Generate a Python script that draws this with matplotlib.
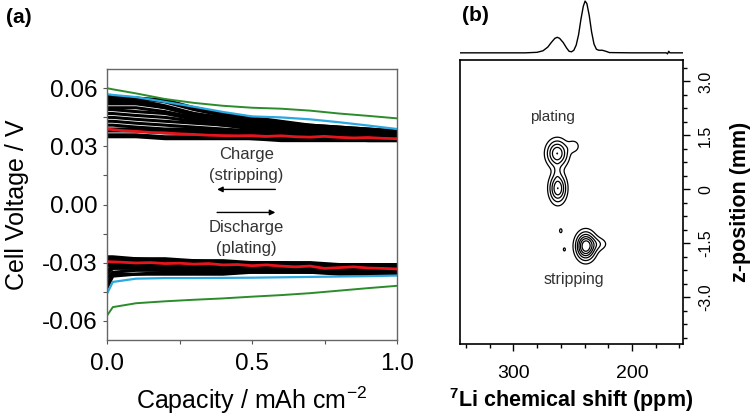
import numpy as np
import matplotlib
matplotlib.use("Agg")
import matplotlib.pyplot as plt
from matplotlib.ticker import MultipleLocator, FixedLocator, FixedFormatter

plt.rcParams['font.family'] = ['Liberation Sans', 'DejaVu Sans']
plt.rcParams['mathtext.default'] = 'regular'

# ---------------- panel (a): voltage profiles ----------------
cap = [0.0, 0.02, 0.1, 0.2, 0.3, 0.4, 0.5, 0.6, 0.7, 0.8, 0.9, 1.0]

charge_black = [
    [0.056, 0.056, 0.055, 0.054, 0.050, 0.047, 0.045, 0.043, 0.041, 0.040, 0.039, 0.038],
    [0.055, 0.055, 0.055, 0.053, 0.049, 0.046, 0.044, 0.042, 0.041, 0.040, 0.039, 0.038],
    [0.054, 0.054, 0.054, 0.051, 0.047, 0.045, 0.043, 0.041, 0.040, 0.039, 0.038, 0.037],
    [0.053, 0.053, 0.053, 0.050, 0.047, 0.044, 0.042, 0.041, 0.040, 0.039, 0.038, 0.037],
    [0.052, 0.052, 0.052, 0.050, 0.046, 0.043, 0.041, 0.040, 0.039, 0.038, 0.037, 0.037],
    [0.050, 0.050, 0.050, 0.048, 0.045, 0.042, 0.040, 0.039, 0.038, 0.037, 0.037, 0.036],
    [0.049, 0.049, 0.048, 0.047, 0.044, 0.042, 0.040, 0.039, 0.038, 0.037, 0.036, 0.036],
    [0.047, 0.047, 0.046, 0.045, 0.043, 0.041, 0.040, 0.039, 0.038, 0.037, 0.036, 0.036],
    [0.045, 0.045, 0.044, 0.043, 0.042, 0.041, 0.039, 0.038, 0.037, 0.036, 0.036, 0.035],
    [0.043, 0.043, 0.042, 0.041, 0.040, 0.039, 0.038, 0.037, 0.037, 0.036, 0.035, 0.035],
    [0.041, 0.041, 0.040, 0.039, 0.039, 0.038, 0.037, 0.036, 0.036, 0.035, 0.035, 0.034],
    [0.039, 0.039, 0.039, 0.038, 0.038, 0.037, 0.036, 0.036, 0.035, 0.035, 0.035, 0.034],
    [0.038, 0.038, 0.038, 0.037, 0.037, 0.036, 0.036, 0.035, 0.035, 0.035, 0.034, 0.034],
    [0.036, 0.036, 0.036, 0.035, 0.035, 0.035, 0.034, 0.034, 0.034, 0.034, 0.033, 0.033],
    [0.035, 0.035, 0.035, 0.034, 0.034, 0.034, 0.034, 0.033, 0.033, 0.033, 0.033, 0.033],
]
discharge_black = [
    [-0.027, -0.027, -0.028, -0.028, -0.029, -0.029, -0.030, -0.030, -0.030, -0.031, -0.031, -0.031],
    [-0.028, -0.028, -0.028, -0.029, -0.029, -0.030, -0.030, -0.030, -0.031, -0.031, -0.031, -0.032],
    [-0.029, -0.029, -0.029, -0.029, -0.030, -0.030, -0.031, -0.031, -0.031, -0.032, -0.032, -0.032],
    [-0.031, -0.030, -0.030, -0.030, -0.031, -0.031, -0.031, -0.032, -0.032, -0.032, -0.033, -0.033],
    [-0.032, -0.031, -0.031, -0.031, -0.031, -0.032, -0.032, -0.032, -0.033, -0.033, -0.033, -0.034],
    [-0.034, -0.032, -0.032, -0.032, -0.032, -0.032, -0.033, -0.033, -0.033, -0.034, -0.034, -0.034],
    [-0.036, -0.033, -0.033, -0.033, -0.033, -0.033, -0.033, -0.034, -0.034, -0.034, -0.035, -0.035],
    [-0.038, -0.035, -0.034, -0.034, -0.034, -0.034, -0.034, -0.034, -0.035, -0.035, -0.035, -0.035],
    [-0.041, -0.036, -0.036, -0.035, -0.035, -0.035, -0.035, -0.035, -0.035, -0.035, -0.036, -0.036],
    [-0.043, -0.037, -0.036, -0.036, -0.036, -0.036, -0.035, -0.035, -0.035, -0.036, -0.036, -0.036],
]

green_charge = [0.0601, 0.0595, 0.0574, 0.0545, 0.0525, 0.0510, 0.0500, 0.0495, 0.0485, 0.0470, 0.0458, 0.0445]
blue_charge = [0.0570, 0.0566, 0.0555, 0.0530, 0.0505, 0.0478, 0.0455, 0.0450, 0.0440, 0.0425, 0.0408, 0.0390]
green_discharge = [-0.0574, -0.0530, -0.0510, -0.0500, -0.0492, -0.0485, -0.0476, -0.0468, -0.0458, -0.0445, -0.0432, -0.0420]
blue_discharge = [-0.0460, -0.0400, -0.0383, -0.0380, -0.0380, -0.0379, -0.0378, -0.0376, -0.0374, -0.0372, -0.0370, -0.0367]

cap_fine = [0.0, 0.05, 0.1, 0.15, 0.2, 0.25, 0.3, 0.35, 0.4, 0.45, 0.5,
            0.55, 0.6, 0.65, 0.7, 0.75, 0.8, 0.85, 0.9, 0.95, 1.0]
red_charge = [0.0390, 0.0382, 0.0378, 0.0372, 0.0370, 0.0365, 0.0362, 0.0358, 0.0356, 0.0355, 0.0356,
              0.0352, 0.0355, 0.0350, 0.0348, 0.0352, 0.0347, 0.0344, 0.0346, 0.0342, 0.0340]
red_discharge = [-0.0295, -0.0298, -0.0302, -0.0300, -0.0305, -0.0303, -0.0308, -0.0305, -0.0312, -0.0310, -0.0316,
                 -0.0312, -0.0318, -0.0322, -0.0318, -0.0330, -0.0326, -0.0322, -0.0328, -0.0330, -0.0333]

# ---------------- panel (b): 7Li MRI ----------------
spec_ppm = [345, 290, 280, 275, 271, 268, 265, 263, 261, 258, 255, 253, 251, 249, 247, 245, 243,
            241, 239.5, 238, 236, 234, 232, 230, 228, 225, 222, 219, 200, 171, 170, 169, 168, 157]
spec_int = [0.0, 0.0, 0.01, 0.04, 0.11, 0.20, 0.28, 0.30, 0.28, 0.20, 0.09, 0.03, 0.02, 0.05, 0.15, 0.35, 0.65,
            0.90, 1.0, 0.95, 0.72, 0.40, 0.17, 0.07, 0.05, 0.05, 0.03, 0.005, 0.0, 0.0, -0.02, 0.03, 0.0, 0.0]

# intensity lobes: centre shift (ppm), centre z (mm), widths, amplitude
lobe_ppm = [263, 262.5, 263, 249, 239, 228, 257, 260]
lobe_z = [1.0, 0.03, 0.5, 1.2, -1.58, -1.52, -1.67, -1.15]
lobe_wppm = [5.8, 4.6, 2.0, 3.5, 5.2, 5.5, 1.2, 1.5]
lobe_wz = [0.24, 0.26, 0.15, 0.12, 0.24, 0.13, 0.06, 0.08]
lobe_amp = [0.7, 0.7, 0.1, 0.2, 1.0, 0.2, 0.15, 0.15]
contour_levels = [0.12, 0.25, 0.4, 0.55, 0.7, 0.85]

fig = plt.figure(figsize=(7.5, 4.19), dpi=100)

# (a)
ax = fig.add_axes([0.1427, 0.1885, 0.3867, 0.6468])
for yv in charge_black:
    ax.plot(cap, yv, color='black', lw=2.2)
for yv in discharge_black:
    ax.plot(cap, yv, color='black', lw=2.2)
ax.plot(cap, green_charge, color='#2a8c2a', lw=1.4)
ax.plot(cap, blue_charge, color='#2aa8e0', lw=1.6)
ax.plot(cap, green_discharge, color='#2a8c2a', lw=1.4)
ax.plot(cap, blue_discharge, color='#2aa8e0', lw=1.6)
ax.plot(cap_fine, red_charge, color='#e8141c', lw=2.0)
ax.plot(cap_fine, red_discharge, color='#e8141c', lw=2.0)

ax.set_xlim(0, 1)
ax.set_ylim(-0.07, 0.07)
ax.xaxis.set_major_locator(FixedLocator([0, 0.5, 1.0]))
ax.xaxis.set_major_formatter(FixedFormatter(['0.0', '0.5', '1.0']))
ax.xaxis.set_minor_locator(MultipleLocator(0.25))
ax.yaxis.set_major_locator(FixedLocator([-0.06, -0.03, 0.0, 0.03, 0.06]))
ax.yaxis.set_major_formatter(FixedFormatter(['-0.06', '-0.03', '0.00', '0.03', '0.06']))
ax.yaxis.set_minor_locator(MultipleLocator(0.015))
ax.tick_params(which='both', direction='out', length=3, width=0.8, labelsize=17.5, color='#555555')
ax.tick_params(axis='x', pad=6)
ax.tick_params(axis='y', pad=4)
for sp in ax.spines.values():
    sp.set_color('#666666')
    sp.set_linewidth(1.0)
ax.set_ylabel('Cell Voltage / V', fontsize=18, labelpad=9)
ax.set_xlabel('Capacity / mAh cm$^{-2}$', fontsize=18, labelpad=7)

ax.text(0.48, 0.0259, 'Charge', ha='center', va='center', fontsize=12, color='#333333')
ax.text(0.48, 0.0150, '(stripping)', ha='center', va='center', fontsize=12, color='#333333')
ax.annotate('', xy=(0.37, 0.0078), xytext=(0.59, 0.0078),
            arrowprops=dict(arrowstyle='-|>', color='black', lw=1.0, mutation_scale=8))
ax.annotate('', xy=(0.59, -0.0041), xytext=(0.37, -0.0041),
            arrowprops=dict(arrowstyle='-|>', color='black', lw=1.0, mutation_scale=8))
ax.text(0.48, -0.0119, 'Discharge', ha='center', va='center', fontsize=12, color='#333333')
ax.text(0.48, -0.0228, '(plating)', ha='center', va='center', fontsize=12, color='#333333')
fig.text(0.008, 0.958, '(a)', fontsize=15, fontweight='bold', va='center')

# (b) image
bx = fig.add_axes([0.6133, 0.179, 0.2973, 0.678])
gp = np.linspace(345, 157, 500)
gz = np.linspace(-4.3, 3.6, 500)
P, Z = np.meshgrid(gp, gz)
field = np.zeros_like(P)
for p0, z0, wp, wz, a in zip(lobe_ppm, lobe_z, lobe_wppm, lobe_wz, lobe_amp):
    field += a * np.exp(-0.5 * ((P - p0) / wp) ** 2 - 0.5 * ((Z - z0) / wz) ** 2)
bx.contour(P, Z, field, levels=contour_levels, colors='black', linewidths=0.9)
bx.set_xlim(345, 157)
bx.set_ylim(-4.3, 3.6)
bx.xaxis.set_major_locator(FixedLocator([300, 200]))
bx.xaxis.set_minor_locator(MultipleLocator(20))
bx.yaxis.tick_right()
bx.yaxis.set_label_position('right')
bx.yaxis.set_major_locator(FixedLocator([-3.0, -1.5, 0.0, 1.5, 3.0]))
bx.yaxis.set_major_formatter(FixedFormatter(['-3.0', '-1.5', '0', '1.5', '3.0']))
bx.yaxis.set_minor_locator(MultipleLocator(0.375))
bx.tick_params(which='major', direction='out', length=5, width=1.0)
bx.tick_params(which='minor', direction='out', length=3, width=1.0)
bx.tick_params(axis='x', labelsize=14, pad=10)
bx.tick_params(axis='y', labelsize=11.5, labelrotation=90, pad=6)
for lab in bx.get_yticklabels():
    lab.set_va('center')
for sp in bx.spines.values():
    sp.set_linewidth(1.2)
bx.set_xlabel('$^{7}$Li chemical shift (ppm)', fontsize=15.5, fontweight='bold', labelpad=3)
bx.set_ylabel('z-position (mm)', fontsize=15.5, fontweight='bold', labelpad=12)
bx.text(267, 2.0, 'plating', ha='center', va='center', fontsize=11, color='#333333')
bx.text(249, -2.5, 'stripping', ha='center', va='center', fontsize=11.5, color='#333333')

# (b) projection
sx = fig.add_axes([0.6133, 0.864, 0.2973, 0.136])
sx.plot(spec_ppm, spec_int, color='black', lw=1.0)
sx.set_xlim(345, 157)
sx.set_ylim(-0.08, 1.02)
sx.axis('off')
fig.text(0.616, 0.964, '(b)', fontsize=15, fontweight='bold', va='center')

fig.savefig('out.png', dpi=100)
